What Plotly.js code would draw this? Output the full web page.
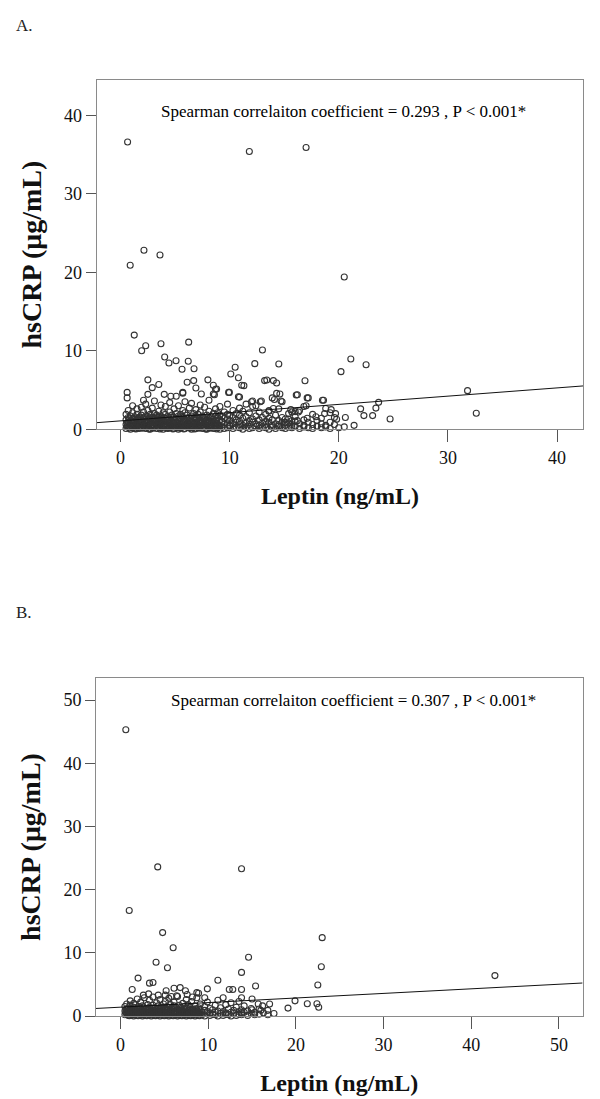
<!DOCTYPE html>
<html>
<head>
<meta charset="utf-8">
<script src="https://cdn.plot.ly/plotly-3.0.1.min.js"></script>
<style>
  html, body { margin: 0; padding: 0; background: #fff; }
  #chart { width: 600px; height: 1099px; }
</style>
</head>
<body>
<div id="chart"></div>
<script>
// ---------- Panel A data: [leptin ng/mL, hsCRP ug/mL] ----------
const outliersA = [
  [0.64,36.6],[11.8,35.4],[17.0,35.9],[2.14,22.8],[3.61,22.2],[0.88,20.9],[20.5,19.4],
  [1.25,12.0],[2.3,10.65],[1.93,10.0],[3.7,10.9],[6.24,11.1],[13.0,10.1],[4.04,9.2],
  [4.43,8.45],[5.08,8.74],[6.2,8.66],[5.63,7.64],[6.73,7.72],[10.5,7.9],[10.1,7.04],
  [10.8,6.57],[12.3,8.36],[14.5,8.32],[11.3,5.56],[13.4,6.28],[14.3,5.9],[16.9,6.19],
  [20.2,7.34],[21.1,8.96],[22.5,8.23],[31.8,4.92],[32.6,2.04],[24.7,1.31],[23.65,3.43],
  [23.4,2.7],[23.1,1.74],[22.3,1.74],[22.0,2.6],[18.6,3.7],[18.8,2.65],[19.2,2.1],
  [19.8,1.27],[20.5,0.3],[17.1,4.0],[17.2,4.0],[16.1,4.37],[14.8,3.5],[14.1,3.8],
  [14.3,4.57],[14.6,4.5],[12.8,3.5],[12.0,3.5],[9.97,4.7],[10.9,4.1],[8.8,5.13],
  [8.5,5.6],[8.0,6.3],[8.5,4.5],[7.4,4.5],[6.9,5.25],[6.7,6.2],[6.1,6.0],[5.7,4.7],
  [5.1,4.2],[3.5,5.7],[2.5,6.3],[2.9,5.3],[2.5,4.45],[2.1,3.7],[0.6,4.7],[0.6,4.0],
  [4.0,4.45],[4.6,4.2],[5.7,4.6],[16.8,2.9],[16.3,2.2],[15.7,2.2],[14.0,2.65],
  [17.1,1.4],[17.9,1.6],[8.6,4.4],[8.7,5.1],[11.1,5.6],[13.2,6.2],[14.0,6.2],[9.9,4.7],
  [10.8,4.15],[13.9,4.0],[14.7,3.6],[16.2,4.4],[18.5,3.7],[12.1,3.6],[12.9,3.6],
  [11.5,3.2],[12.4,3.0],[17.0,3.0],[15.6,2.5],[16.0,2.25],[18.7,2.0],[19.3,2.5],
  [19.7,2.0],[20.6,1.5],[13.6,2.3],[15.4,1.3],[16.2,1.1],[15.1,0.9]
];
const coreA = [
  [0.5,0.1],[0.5,0.6],[0.5,1.2],[0.5,1.9],[0.7,0.3],[0.7,0.9],[0.7,1.5],[0.7,2.4],
  [0.9,0.0],[0.9,0.5],[0.9,1.1],[0.9,1.7],[1.1,0.2],[1.1,0.8],[1.1,1.4],[1.1,2.1],[1.1,3.0],
  [1.3,0.4],[1.3,1.0],[1.3,1.6],[1.3,0.1],[1.5,0.3],[1.5,0.7],[1.5,1.3],[1.5,1.9],[1.5,2.6],
  [1.7,0.1],[1.7,0.5],[1.7,1.1],[1.7,1.5],[1.9,0.2],[1.9,0.9],[1.9,1.2],[1.9,1.8],[1.9,2.8],
  [2.1,0.4],[2.1,0.6],[2.1,1.4],[2.1,2.2],[2.3,0.1],[2.3,0.8],[2.3,1.0],[2.3,1.7],[2.3,3.2],
  [2.5,0.3],[2.5,0.5],[2.5,1.2],[2.5,1.6],[2.5,2.4],[2.7,0.0],[2.7,0.7],[2.7,1.3],[2.7,1.9],
  [2.9,0.2],[2.9,0.6],[2.9,1.1],[2.9,1.5],[2.9,2.7],[3.1,0.4],[3.1,0.9],[3.1,1.4],[3.1,2.0],[3.1,3.6],
  [3.3,0.1],[3.3,0.5],[3.3,1.0],[3.3,1.8],[3.5,0.3],[3.5,0.8],[3.5,1.3],[3.5,1.6],[3.5,2.3],
  [3.7,0.2],[3.7,0.6],[3.7,1.2],[3.7,1.7],[3.7,3.1],[3.9,0.0],[3.9,0.4],[3.9,1.0],[3.9,1.5],[3.9,2.1],
  [4.1,0.3],[4.1,0.7],[4.1,1.4],[4.1,1.9],[4.1,2.9],[4.3,0.1],[4.3,0.5],[4.3,1.1],[4.3,1.6],
  [4.5,0.2],[4.5,0.9],[4.5,1.3],[4.5,2.2],[4.5,3.4],[4.7,0.4],[4.7,0.6],[4.7,1.0],[4.7,1.8],
  [4.9,0.1],[4.9,0.8],[4.9,1.2],[4.9,1.5],[4.9,2.6],[5.1,0.3],[5.1,0.5],[5.1,1.4],[5.1,2.0],
  [5.3,0.0],[5.3,0.7],[5.3,1.1],[5.3,1.7],[5.3,3.0],[5.5,0.2],[5.5,0.6],[5.5,1.3],[5.5,1.9],
  [5.7,0.4],[5.7,0.9],[5.7,1.0],[5.7,1.6],[5.7,2.4],[5.9,0.1],[5.9,0.5],[5.9,1.2],[5.9,2.1],[5.9,3.5],
  [6.1,0.3],[6.1,0.8],[6.1,1.4],[6.1,1.8],[6.3,0.2],[6.3,0.6],[6.3,1.1],[6.3,1.5],[6.3,2.7],
  [6.5,0.0],[6.5,0.4],[6.5,1.0],[6.5,1.7],[6.5,3.3],[6.7,0.3],[6.7,0.7],[6.7,1.3],[6.7,2.0],
  [6.9,0.1],[6.9,0.9],[6.9,1.2],[6.9,1.6],[6.9,2.5],[7.1,0.2],[7.1,0.5],[7.1,1.4],[7.1,1.9],
  [7.3,0.4],[7.3,0.8],[7.3,1.0],[7.3,2.2],[7.3,3.1],[7.5,0.1],[7.5,0.6],[7.5,1.1],[7.5,1.7],
  [7.7,0.3],[7.7,0.7],[7.7,1.3],[7.7,1.5],[7.7,2.8],[7.9,0.0],[7.9,0.5],[7.9,1.2],[7.9,1.8],
  [8.1,0.2],[8.1,0.9],[8.1,1.4],[8.1,2.3],[8.1,3.7],[8.3,0.4],[8.3,0.6],[8.3,1.0],[8.3,1.6],
  [8.5,0.1],[8.5,0.8],[8.5,1.3],[8.5,2.0],[8.7,0.3],[8.7,0.5],[8.7,1.1],[8.7,1.7],[8.7,2.6],
  [8.9,0.2],[8.9,0.7],[8.9,1.5],[8.9,2.1],[9.1,0.0],[9.1,0.4],[9.1,1.2],[9.1,1.8],[9.1,2.9],
  [9.3,0.3],[9.3,0.9],[9.3,1.0],[9.3,1.6],[9.5,0.1],[9.5,0.6],[9.5,1.4],[9.5,2.2],
  [9.8,0.2],[9.8,0.8],[9.8,1.3],[9.8,1.9],[9.8,3.2],[10.0,0.4],[10.0,0.5],[10.0,1.1],[10.0,1.7],
  [10.3,0.1],[10.3,0.7],[10.3,1.5],[10.3,2.4],[10.6,0.3],[10.6,0.9],[10.6,1.2],[10.6,2.0],
  [10.9,0.2],[10.9,0.6],[10.9,1.0],[10.9,1.8],[10.9,2.7],[11.2,0.0],[11.2,0.5],[11.2,1.4],[11.2,2.3],
  [11.5,0.3],[11.5,0.8],[11.5,1.6],[11.8,0.1],[11.8,0.6],[11.8,1.1],[11.8,2.1],
  [12.1,0.2],[12.1,0.9],[12.1,1.3],[12.1,2.9],[12.4,0.4],[12.4,0.7],[12.4,1.7],
  [12.7,0.1],[12.7,0.5],[12.7,1.2],[12.7,2.2],[13.0,0.3],[13.0,0.8],[13.0,1.5],
  [13.3,0.2],[13.3,0.6],[13.3,1.0],[13.3,1.9],[13.6,0.0],[13.6,0.9],[13.6,1.4],[13.6,2.4],
  [13.9,0.3],[13.9,0.5],[13.9,1.2],[14.2,0.1],[14.2,0.7],[14.2,1.8],[14.5,0.4],[14.5,0.6],[14.5,1.1],[14.5,2.6],
  [14.8,0.2],[14.8,0.9],[14.8,1.5],[15.1,0.1],[15.1,0.5],[15.1,1.3],[15.4,0.3],[15.4,0.8],[15.4,2.0],
  [15.7,0.2],[15.7,0.6],[15.7,1.1],[16.0,0.4],[16.0,1.0],[16.0,1.6],[16.4,0.1],[16.4,0.7],[16.4,2.4],
  [16.8,0.3],[16.8,0.5],[16.8,1.2],[17.2,0.2],[17.2,0.9],[17.6,0.1],[17.6,0.6],[17.6,1.9],
  [18.0,0.4],[18.0,1.1],[18.4,0.2],[18.4,0.7],[18.4,1.4],[18.8,0.3],[18.8,0.5],
  [19.2,0.1],[19.2,0.9],[19.6,0.6],[19.6,1.5],[20.0,0.2],[21.4,0.5]
];
const denseA = [
  [0.6,0.35],[0.6,0.8],[0.8,0.15],[0.8,1.35],[1.0,0.45],[1.0,0.95],[1.2,0.25],[1.2,1.25],
  [1.4,0.05],[1.4,0.55],[1.6,0.85],[1.6,1.45],[1.8,0.35],[1.8,0.65],[2.0,0.15],[2.0,1.05],
  [2.2,0.55],[2.2,1.25],[2.4,0.25],[2.4,0.95],[2.6,0.05],[2.6,1.45],[2.8,0.45],[2.8,0.85],
  [3.0,0.15],[3.0,1.25],[3.2,0.65],[3.2,1.55],[3.4,0.35],[3.4,0.75],[3.6,0.05],[3.6,1.05],
  [3.8,0.85],[3.8,1.35],[4.0,0.25],[4.0,0.55],[4.2,0.45],[4.2,1.15],[4.4,0.15],[4.4,0.75],
  [4.6,0.35],[4.6,1.55],[4.8,0.05],[4.8,0.65],[5.0,0.25],[5.0,1.05],[5.2,0.45],[5.2,0.85],
  [5.4,0.15],[5.4,1.45],[5.6,0.35],[5.6,0.75],[5.8,0.05],[5.8,1.25],[6.0,0.55],[6.0,1.05],
  [6.2,0.25],[6.2,0.65],[6.4,0.15],[6.4,1.35],[6.6,0.45],[6.6,0.85],[6.8,0.05],[6.8,1.55],
  [7.0,0.35],[7.0,0.75],[7.2,0.15],[7.2,1.15],[7.4,0.55],[7.4,0.95],[7.6,0.25],[7.6,1.45],
  [7.8,0.05],[7.8,0.85],[8.0,0.35],[8.0,1.05],[8.2,0.15],[8.2,0.55],[8.4,0.25],[8.4,1.25],
  [8.6,0.45],[8.6,0.75],[8.8,0.05],[8.8,1.05]
];
const fitA = { intercept: 1.07, slope: 0.105 };
const statA = "Spearman correlaiton coefficient = 0.293 , P < 0.001*";

// ---------- Panel B data ----------
const outliersB = [
  [0.6,45.3],[4.24,23.6],[13.8,23.3],[0.99,16.7],[4.8,13.2],[23.0,12.4],[6.0,10.8],
  [14.6,9.3],[4.05,8.5],[5.35,7.65],[22.9,7.8],[13.8,6.9],[42.7,6.4],[2.0,6.0],
  [11.1,5.65],[3.3,5.2],[3.7,5.3],[22.5,4.9],[15.4,4.75],[1.33,4.2],[6.1,4.4],[6.8,4.5],
  [5.2,4.0],[7.4,4.0],[9.9,4.3],[12.4,4.2],[12.8,4.2],[13.8,4.2],[3.2,3.5],[2.6,3.3],
  [4.3,3.3],[5.1,3.3],[8.7,3.7],[8.9,3.6],[11.7,2.9],[13.8,2.9],[15.0,2.7],[19.9,2.4],
  [21.3,1.95],[22.4,1.95],[22.6,1.4],[19.1,1.25],[17.0,1.9],[15.7,1.9],[16.2,1.6],
  [15.0,1.0],[16.0,0.9],[5.8,3.1],[6.4,3.2],[7.6,3.4],[8.2,3.0],[9.6,2.9]
];
const coreB = [
  [0.5,0.2],[0.5,0.8],[0.5,1.5],[0.7,0.4],[0.7,1.1],[0.7,1.9],[0.9,0.1],[0.9,0.6],[0.9,1.3],
  [1.1,0.3],[1.1,0.9],[1.1,1.7],[1.1,2.4],[1.3,0.2],[1.3,0.5],[1.3,1.2],
  [1.5,0.0],[1.5,0.7],[1.5,1.4],[1.5,2.0],[1.7,0.4],[1.7,1.0],[1.7,1.8],
  [1.9,0.1],[1.9,0.6],[1.9,1.3],[1.9,2.7],[2.1,0.3],[2.1,0.8],[2.1,1.5],
  [2.3,0.2],[2.3,0.5],[2.3,1.1],[2.3,2.2],[2.5,0.0],[2.5,0.9],[2.5,1.6],
  [2.7,0.4],[2.7,0.7],[2.7,1.3],[2.7,2.9],[2.9,0.1],[2.9,0.6],[2.9,1.2],
  [3.1,0.3],[3.1,1.0],[3.1,1.8],[3.3,0.2],[3.3,0.5],[3.3,1.4],[3.3,2.5],
  [3.5,0.0],[3.5,0.8],[3.5,1.1],[3.7,0.4],[3.7,0.6],[3.7,1.7],[3.7,3.0],
  [3.9,0.1],[3.9,0.9],[3.9,1.3],[4.1,0.3],[4.1,0.7],[4.1,2.1],
  [4.3,0.2],[4.3,0.5],[4.3,1.2],[4.3,1.6],[4.5,0.0],[4.5,1.0],[4.5,2.6],
  [4.7,0.4],[4.7,0.6],[4.7,1.4],[4.9,0.1],[4.9,0.8],[4.9,1.9],
  [5.1,0.3],[5.1,0.5],[5.1,1.1],[5.1,2.3],[5.3,0.2],[5.3,0.9],[5.3,1.5],
  [5.5,0.0],[5.5,0.7],[5.5,1.3],[5.5,2.8],[5.7,0.4],[5.7,0.6],[5.7,1.8],
  [5.9,0.1],[5.9,1.0],[5.9,1.2],[6.1,0.3],[6.1,0.5],[6.1,1.6],[6.1,2.2],
  [6.3,0.2],[6.3,0.8],[6.3,1.4],[6.5,0.0],[6.5,0.6],[6.5,1.1],[6.5,3.1],
  [6.7,0.4],[6.7,0.9],[6.7,1.7],[6.9,0.1],[6.9,0.7],[6.9,1.3],
  [7.1,0.3],[7.1,0.5],[7.1,2.0],[7.3,0.2],[7.3,1.0],[7.3,1.5],
  [7.5,0.0],[7.5,0.6],[7.5,1.2],[7.5,2.6],[7.7,0.4],[7.7,0.8],[7.7,1.8],
  [7.9,0.1],[7.9,0.5],[7.9,1.4],[8.1,0.3],[8.1,0.9],[8.1,2.3],
  [8.3,0.2],[8.3,0.7],[8.3,1.1],[8.5,0.0],[8.5,0.6],[8.5,1.6],
  [8.7,0.4],[8.7,1.0],[8.7,2.9],[8.9,0.1],[8.9,0.5],[8.9,1.3],
  [9.1,0.3],[9.1,0.8],[9.1,1.9],[9.3,0.2],[9.3,0.6],[9.6,0.0],[9.6,0.9],[9.6,1.5],
  [9.9,0.4],[9.9,0.7],[9.9,2.2],[10.2,0.1],[10.2,0.5],[10.2,1.2],[10.5,0.3],[10.5,1.0],
  [10.8,0.2],[10.8,0.6],[10.8,1.7],[11.1,0.0],[11.1,0.8],[11.1,2.5],[11.4,0.4],[11.4,1.3],
  [11.7,0.1],[11.7,0.7],[12.0,0.3],[12.0,0.5],[12.0,1.8],[12.3,0.2],[12.3,1.1],
  [12.6,0.0],[12.6,0.6],[12.6,2.1],[12.9,0.4],[12.9,0.9],[13.2,0.1],[13.2,1.4],
  [13.5,0.3],[13.5,0.7],[13.5,2.3],[13.8,0.2],[13.8,0.5],[13.8,1.0],[14.1,0.6],[14.1,1.6],
  [14.5,0.1],[14.5,0.8],[14.9,0.4],[14.9,1.2],[15.3,0.2],[15.3,0.6],[15.8,0.3],[15.8,1.1],
  [16.3,0.5],[16.8,0.2],[16.8,0.9],[17.5,0.4]
];
const denseB = [
  [0.6,0.5],[0.6,1.0],[0.8,0.25],[0.8,1.2],[1.0,0.05],[1.0,0.75],[1.2,0.45],[1.2,1.05],
  [1.4,0.25],[1.4,0.85],[1.6,0.15],[1.6,0.55],[1.8,0.35],[1.8,1.15],[2.0,0.05],[2.0,0.65],
  [2.2,0.45],[2.2,1.25],[2.4,0.25],[2.4,0.75],[2.6,0.15],[2.6,1.05],[2.8,0.35],[2.8,0.55],
  [3.0,0.05],[3.0,0.85],[3.2,0.25],[3.2,1.15],[3.4,0.45],[3.4,0.65],[3.6,0.15],[3.6,1.25],
  [3.8,0.35],[3.8,0.85],[4.0,0.05],[4.0,0.55],[4.2,0.25],[4.2,1.05],[4.4,0.45],[4.4,0.75],
  [4.6,0.15],[4.6,1.15],[4.8,0.35],[4.8,0.65],[5.0,0.05],[5.0,1.25],[5.2,0.25],[5.2,0.55],
  [5.4,0.45],[5.4,1.05],[5.6,0.15],[5.6,0.85],[5.8,0.35],[5.8,1.15],[6.0,0.05],[6.0,0.65],
  [6.2,0.25],[6.2,1.25],[6.4,0.45],[6.4,0.75],[6.6,0.15],[6.6,1.05],[6.8,0.35],[6.8,0.55],
  [7.0,0.05],[7.0,0.85],[7.2,0.25],[7.2,1.15],[7.4,0.45],[7.4,0.65],[7.6,0.15],[7.6,1.25],
  [7.8,0.35],[7.8,0.85],[8.0,0.05],[8.0,0.55],[8.2,0.25],[8.2,1.05],[8.4,0.45],[8.4,0.75],
  [8.6,0.15],[8.6,1.15],[8.8,0.35],[8.8,0.65],[9.0,0.05],[9.0,1.05]
];
const fitB = { intercept: 1.4, slope: 0.0726 };
const statB = "Spearman correlaiton coefficient = 0.307 , P < 0.001*";

const ticksA_x = [0, 10, 20, 30, 40];
const ticksA_y = [0, 10, 20, 30, 40];
const ticksB_x = [0, 10, 20, 30, 40, 50];
const ticksB_y = [0, 10, 20, 30, 40, 50];
const rangeA_x = [-2.2, 42.4], rangeA_y = [0, 44.5];
const rangeB_x = [-2.8, 52.7], rangeB_y = [0, 53.5];

// ---------- build ----------
const serif = "Liberation Serif, Times New Roman, serif";
function pts(arrs, xa, ya) {
  const all = [].concat(...arrs);
  return {
    x: all.map(p => p[0]), y: all.map(p => p[1]),
    xaxis: xa, yaxis: ya, type: 'scatter', mode: 'markers', cliponaxis: false,
    marker: { symbol: 'circle-open', size: 6, color: '#333', line: { width: 1.1, color: '#333' } },
    hoverinfo: 'skip', showlegend: false
  };
}
function fitLine(fit, range, xa, ya) {
  return {
    x: range, y: range.map(v => fit.intercept + fit.slope * v),
    xaxis: xa, yaxis: ya, type: 'scatter', mode: 'lines',
    line: { color: '#111', width: 1 }, hoverinfo: 'skip', showlegend: false
  };
}
const data = [
  pts([coreA, denseA, outliersA], 'x', 'y'),
  fitLine(fitA, rangeA_x, 'x', 'y'),
  pts([coreB, denseB, outliersB], 'x2', 'y2'),
  fitLine(fitB, rangeB_x, 'x2', 'y2')
];

const tickfont = { family: serif, size: 18, color: '#111' };
function xa(domain, range, tv, anchor) {
  return {
    domain, range, tickvals: tv, ticktext: tv.map(String), anchor,
    ticks: 'outside', ticklen: 12, tickwidth: 1, tickcolor: '#555',
    showline: true, mirror: true, linecolor: '#8a8a8a', linewidth: 1,
    showgrid: false, zeroline: false, tickfont,
    title: { text: '<b>Leptin (ng/mL)</b>', font: { family: serif, size: 24, color: '#111' }, standoff: 20 }
  };
}
function ya(domain, range, tv, anchor) {
  return {
    domain, range, tickvals: tv, ticktext: tv.map(String), anchor,
    ticks: 'outside', ticklen: 10, tickwidth: 1, tickcolor: '#555',
    showline: true, mirror: true, linecolor: '#8a8a8a', linewidth: 1,
    showgrid: false, zeroline: false, tickfont,
    title: { text: '<b>hsCRP (μg/mL)</b>', font: { family: serif, size: 28, color: '#111' }, standoff: 14 }
  };
}
const layout = {
  width: 600, height: 1099,
  margin: { l: 0, r: 0, t: 0, b: 0 },
  paper_bgcolor: '#fff', plot_bgcolor: '#fff',
  showlegend: false,
  xaxis: xa([0.161, 0.972], rangeA_x, ticksA_x, 'y'),
  yaxis: ya([0.6094, 0.9272], rangeA_y, ticksA_y, 'x'),
  xaxis2: xa([0.160, 0.971], rangeB_x, ticksB_x, 'y2'),
  yaxis2: ya([0.0755, 0.3831], rangeB_y, ticksB_y, 'x2'),
  annotations: [
    { text: 'A.', xref: 'paper', yref: 'paper', x: 14 / 600, y: 1 - 26 / 1099, xanchor: 'left', yanchor: 'middle',
      showarrow: false, font: { family: serif, size: 17, color: '#222' } },
    { text: 'B.', xref: 'paper', yref: 'paper', x: 14 / 600, y: 1 - 612 / 1099, xanchor: 'left', yanchor: 'middle',
      showarrow: false, font: { family: serif, size: 17, color: '#222' } },
    { text: statA, xref: 'paper', yref: 'paper', x: 343 / 600, y: 1 - 112 / 1099, xanchor: 'center', yanchor: 'middle',
      showarrow: false, font: { family: serif, size: 17, color: '#000' } },
    { text: statB, xref: 'paper', yref: 'paper', x: 353 / 600, y: 1 - 700 / 1099, xanchor: 'center', yanchor: 'middle',
      showarrow: false, font: { family: serif, size: 17, color: '#000' } }
  ]
};
Plotly.newPlot('chart', data, layout, { staticPlot: true, displayModeBar: false });
</script>
</body>
</html>
